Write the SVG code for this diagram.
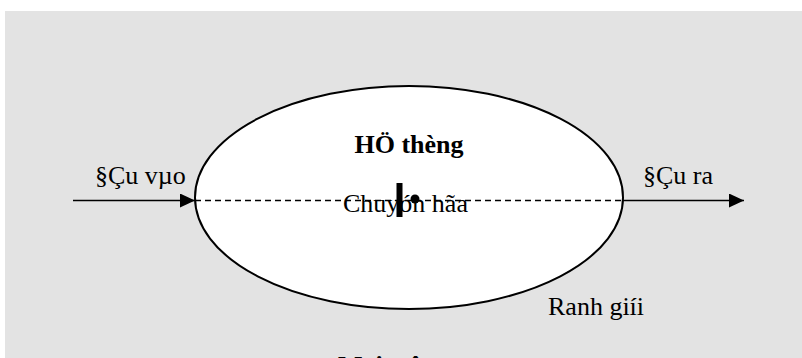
<svg xmlns="http://www.w3.org/2000/svg" width="802" height="358" viewBox="0 0 802 358">
<style>
.t{font-family:"Liberation Serif","Times New Roman",serif;font-size:26px;fill:#000}
.b{font-weight:bold}
.ln{stroke:#000;stroke-width:1.6;fill:none}
.dash{stroke:#000;stroke-width:1.6;stroke-dasharray:6 4;fill:none}
</style>
<defs>
<marker id="arr" markerWidth="16" markerHeight="14" refX="15" refY="7" orient="auto" markerUnits="userSpaceOnUse">
<path d="M0,0 L15,7 L0,14 Z" fill="#000"/>
</marker>
</defs>
<rect x="0" y="0" width="802" height="358" fill="#fff"/>
<rect id="environment" x="5" y="11" width="797" height="347" fill="#e3e3e3"/>
<g id="system">
<ellipse cx="409" cy="197.5" rx="214" ry="111.5" fill="#fff" stroke="#000" stroke-width="2"/>
<text class="t b" x="409" y="153" text-anchor="middle">HÖ thèng</text>
</g>
<g id="connectors">
<line class="ln" x1="73" y1="200.5" x2="195" y2="200.5" marker-end="url(#arr)"/>
<line class="dash" x1="195" y1="200.5" x2="623" y2="200.5"/>
<line class="ln" x1="623" y1="200.5" x2="744" y2="200.5" marker-end="url(#arr)"/>
</g>
<g id="process">
<text class="t" x="343" y="212">Chuyón hãa</text>
<rect x="396.5" y="183" width="6" height="34" fill="#000"/>
<circle cx="415" cy="199" r="4.5" fill="#000"/>
</g>
<g id="input"><text class="t" x="95" y="184">§Çu vµo</text></g>
<g id="output"><text class="t" x="643" y="184">§Çu ra</text></g>
<g id="boundary"><text class="t" x="548" y="315">Ranh giíi</text></g>
<g id="env-label"><text class="t b" x="338" y="374">M«i tr­êng</text></g>
</svg>
